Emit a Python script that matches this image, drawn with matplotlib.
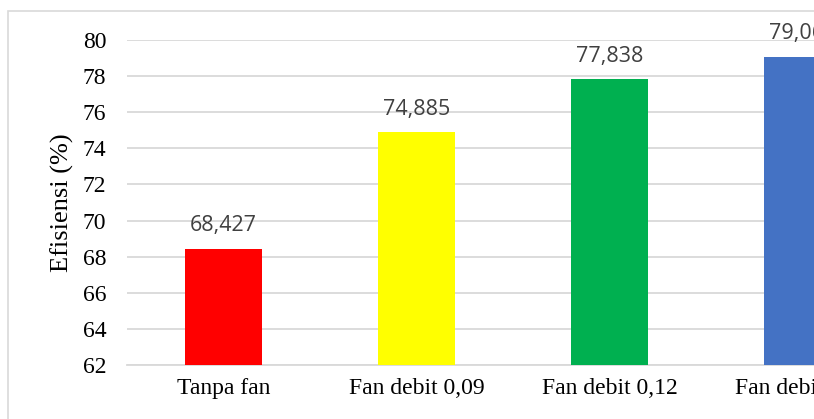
import matplotlib.pyplot as plt
from matplotlib.patches import Rectangle

# data
categories = ['Tanpa fan', 'Fan debit 0,09', 'Fan debit 0,12', 'Fan debit 0,15']
efisiensi = [68.427, 74.885, 77.838, 79.062]
bar_colors = ['#FF0000', '#FFFF00', '#00B050', '#4472C4']
yticks = [62, 64, 66, 68, 70, 72, 74, 76, 78, 80]

W, H = 814, 419
fig = plt.figure(figsize=(W / 100, H / 100), dpi=100)

# outer chart border (chart is cropped on the right and bottom)
fig.patches.append(Rectangle((8 / W, -0.1), 1.2, 1 - 11 / H + 0.1,
                             transform=fig.transFigure, fill=False,
                             edgecolor='#D9D9D9', linewidth=1.2))

left, right, top, bottom = 127, 899, 40, 365
ax = fig.add_axes([left / W, (H - bottom) / H, (right - left) / W, (bottom - top) / H])

x = range(len(categories))
bars = ax.bar(x, [v - 62 for v in efisiensi], bottom=62, width=0.404,
              color=bar_colors, zorder=3)

for b, v in zip(bars, efisiensi):
    ax.annotate(f'{v:.3f}'.replace('.', ','), (b.get_x() + b.get_width() / 2, v),
                xytext=(0, 9), textcoords='offset points', ha='center', va='bottom',
                fontsize=15.5, color='#404040', family='Open Sans', annotation_clip=False)

ax.set_xlim(-0.5, len(categories) - 0.5)
ax.set_ylim(62, 80)
ax.set_yticks(yticks)
ax.set_yticklabels([str(t) for t in yticks], family='Liberation Serif', fontsize=17)
ax.set_xticks(list(x))
ax.set_xticklabels(categories, family='Liberation Serif', fontsize=17)
ax.tick_params(axis='y', length=0, pad=15)
ax.tick_params(axis='x', length=0, pad=9)
ax.yaxis.grid(True, color='#D9D9D9', linewidth=1.3, zorder=0)
for s in ['top', 'right', 'left']:
    ax.spines[s].set_visible(False)
ax.spines['bottom'].set_color('#D9D9D9')
ax.spines['bottom'].set_linewidth(1.3)

ax.set_ylabel('Efisiensi (%)', family='Liberation Serif', fontsize=19, labelpad=6)

fig.savefig('out.png', dpi=100)
